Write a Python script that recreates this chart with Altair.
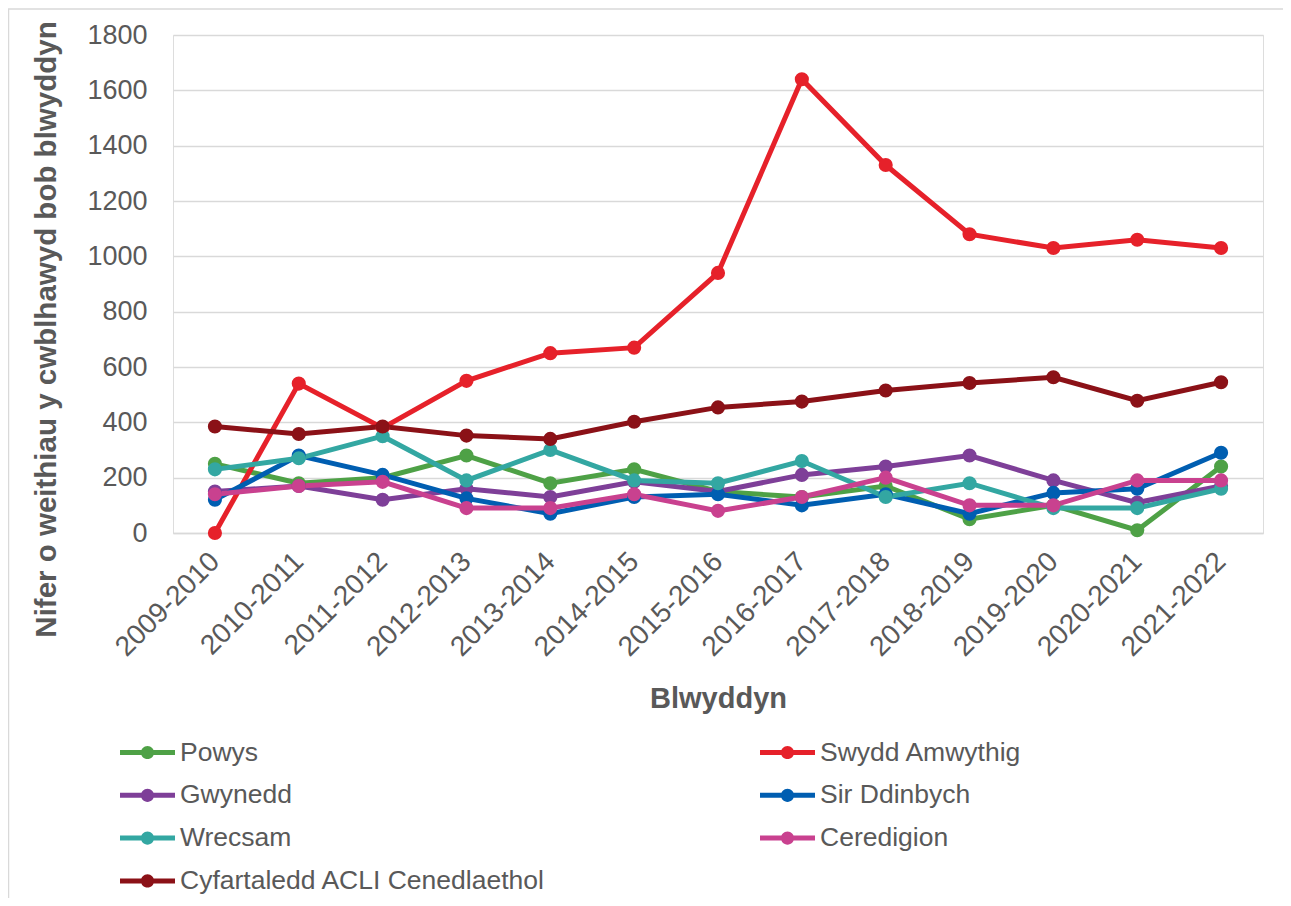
import altair as alt
import pandas as pd

years = ["2009-2010", "2010-2011", "2011-2012", "2012-2013", "2013-2014",
         "2014-2015", "2015-2016", "2016-2017", "2017-2018", "2018-2019",
         "2019-2020", "2020-2021", "2021-2022"]

series_names = ["Powys", "Swydd Amwythig", "Gwynedd", "Sir Ddinbych",
                "Wrecsam", "Ceredigion", "Cyfartaledd ACLI Cenedlaethol"]

powys = [250, 180, 200, 280, 180, 230, 150, 130, 170, 50, 100, 10, 240]
swydd_amwythig = [0, 540, 380, 550, 650, 670, 940, 1640, 1330, 1080, 1030, 1060, 1030]
gwynedd = [150, 170, 120, 160, 130, 185, 150, 210, 240, 280, 190, 110, 170]
sir_ddinbych = [120, 280, 210, 125, 70, 130, 140, 100, 140, 70, 145, 160, 290]
wrecsam = [230, 270, 350, 190, 300, 190, 180, 260, 130, 180, 90, 90, 160]
ceredigion = [140, 170, 185, 90, 90, 140, 80, 130, 200, 100, 100, 190, 190]
cyfartaledd = [385, 358, 385, 352, 340, 402, 454, 475, 515, 542, 563, 478, 545]

series_values = [powys, swydd_amwythig, gwynedd, sir_ddinbych, wrecsam, ceredigion, cyfartaledd]

colors = ["#4EA146", "#E6212A", "#7E3F98", "#005EB1", "#33A7A2", "#C9418F", "#8B1117"]

y_ticks = [0, 200, 400, 600, 800, 1000, 1200, 1400, 1600, 1800]

rows = []
for name, vals in zip(series_names, series_values):
    for yr, v in zip(years, vals):
        rows.append({"Blwyddyn": yr, "Cyfres": name, "Gwerth": v})
df = pd.DataFrame(rows)

TEXT = "#595959"
GRID = "#d9d9d9"
FONT = "Liberation Sans"

color_scale = alt.Scale(domain=series_names, range=colors)

x_enc = alt.X(
    "Blwyddyn:N", sort=years,
    scale=alt.Scale(type="point", padding=0.5),
    axis=alt.Axis(
        labelAngle=-45, labelAlign="right", labelBaseline="middle",
        labelFontSize=28, labelColor=TEXT, labelPadding=24,
        ticks=False, domain=True, domainColor=GRID, domainWidth=1.5,
        grid=False, title="Blwyddyn", titleFontSize=29, titleFontWeight="bold",
        titleColor=TEXT, titleY=165, titleBaseline="middle",
    ),
)
y_enc = alt.Y(
    "Gwerth:Q",
    scale=alt.Scale(domain=[0, 1800], nice=False),
    axis=alt.Axis(
        values=y_ticks, format="d", grid=True, gridColor=GRID, gridWidth=1.5,
        domain=False, ticks=False, labelFontSize=27, labelColor=TEXT,
        labelPadding=26, title="Nifer o weithiau y cwblhawyd bob blwyddyn",
        titleFontSize=29.5, titleFontWeight="bold", titleColor=TEXT,
        titleX=-127, titleY=294, titleAngle=270, titleAlign="center",
        titleBaseline="middle",
    ),
)

legend_symbol = ("M-1,-0.09L1,-0.09L1,0.09L-1,0.09Z "
                 "M0.24,0A0.24,0.24,0,1,1,-0.24,0A0.24,0.24,0,1,1,0.24,0Z")

legend = alt.Legend(
    title=None, orient="none", legendX=-53, legendY=690,
    direction="horizontal", columns=2, columnPadding=214, rowPadding=1.8,
    symbolType=legend_symbol, symbolSize=3025, symbolStrokeWidth=0,
    symbolOpacity=1, labelFontSize=26.5, labelColor=TEXT,
    labelLimit=1000, labelOffset=5, padding=0,
)

base = alt.Chart(df)

lines = base.mark_line(strokeWidth=5).encode(
    x=x_enc, y=y_enc,
    color=alt.Color("Cyfres:N", scale=color_scale, legend=legend),
)

points = base.mark_point(filled=True, size=200, opacity=1).encode(
    x=x_enc, y=y_enc,
    color=alt.Color("Cyfres:N", scale=color_scale, legend=legend),
)

border = alt.Chart(pd.DataFrame({"k": [0]})).mark_rect(
    fillOpacity=0, stroke=GRID, strokeWidth=1.5
).encode(
    x=alt.value(-164.5), x2=alt.value(3000),
    y=alt.value(-26), y2=alt.value(3000),
)

chart = alt.layer(border, lines, points).properties(
    width=1090, height=498,
    autosize=alt.AutoSizeParams(type="none"),
    padding={"left": 165, "top": 27, "right": 20, "bottom": 365},
).configure_view(stroke=None).configure(font=FONT)

chart.save("out.html", embed_options={"renderer": "svg", "actions": False})
